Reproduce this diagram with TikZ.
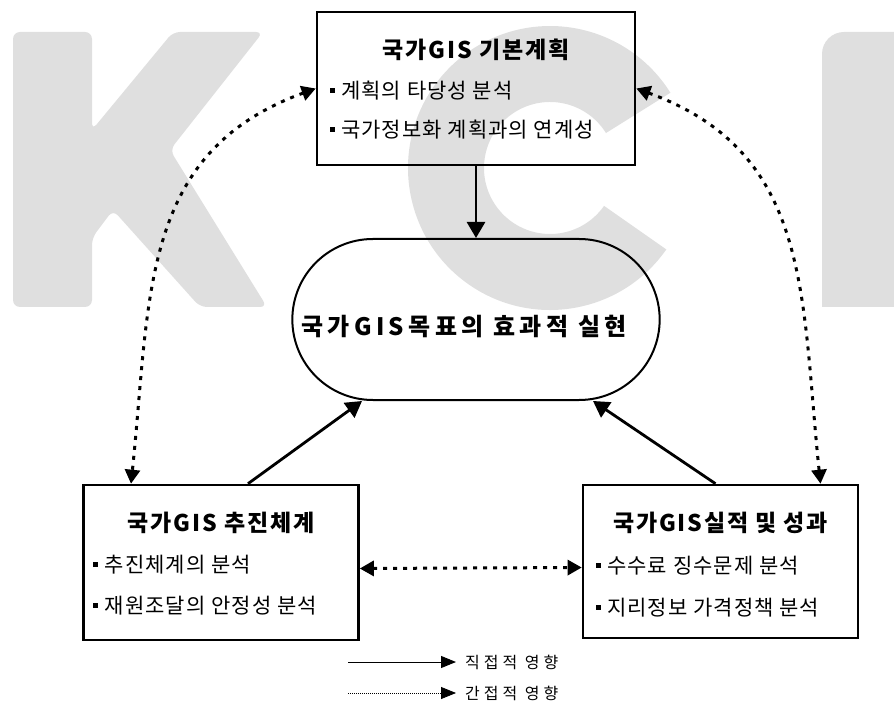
\documentclass[tikz,border=0pt]{standalone}
\usepackage{fontspec}
\setmainfont{Noto Sans CJK KR}
\usetikzlibrary{positioning,calc,arrows.meta,shapes.misc}
\definecolor{watermark}{gray}{0.875}
\newcommand{\itemmark}{\rule[0.28em]{0.24em}{0.24em}\hspace{0.3em}}
\tikzset{%
  every box/.style={
    rectangle,
    draw,
    line width=2.6pt,
    minimum width=318pt,
    minimum height=153pt
  },
  goal box/.style={
    rounded rectangle,
    draw,
    line width=2pt,
    minimum width=374pt,
    minimum height=161pt
  },
  goal text/.style={
    inner sep=0pt,
    font=\fontsize{24}{24}\selectfont\bfseries\addfontfeature{LetterSpace=18}
  },
  box title/.style={
    inner sep=0pt,
    font=\fontsize{23}{23}\selectfont\bfseries\addfontfeature{LetterSpace=8}
  },
  box item/.style={
    anchor=west,
    inner sep=0pt,
    font=\fontsize{21}{21}\selectfont\addfontfeature{LetterSpace=5}
  },
  key text/.style={
    anchor=west,
    inner sep=0pt,
    font=\fontsize{16}{16}\selectfont\addfontfeature{LetterSpace=25}
  },
  direct/.style={
    line width=2.8pt,
    -{Triangle[length=16pt,width=18pt]}
  },
  indirect/.style={
    line width=3pt,
    dash pattern=on 4pt off 6pt,
    {Triangle[length=14pt,width=15pt]}-{Triangle[length=14pt,width=15pt]}
  },
}

\begin{document}
\begin{tikzpicture}[x=1pt, y=-1pt]
    \useasboundingbox (0,0) rectangle (894,708);

    % KCI watermark
    \fill [watermark, rounded corners=7pt] (13,32) -- (92,32) -- (92,130) -- (173,32)
      -- (263,32) -- (170,150) -- (267,307) -- (200,307) -- (113,210) -- (92,238)
      -- (92,307) -- (13,307) -- cycle;
    \fill [watermark] ($(550,168)+(35:142)$)
      arc [start angle=35, end angle=328, radius=142]
      -- ($(550,168)+(328:66)$)
      arc [start angle=328, end angle=35, radius=66] -- cycle;
    \fill [watermark] (894,307) -- (822,307) [rounded corners=22pt] -- (822,32)
      [sharp corners] -- (894,32) -- cycle;

    \node [every box/.try] (plan) at (476,88.5) {};
    \node [every box/.try, minimum width=275pt, minimum height=155pt] (drive) at (221,562.5) {};
    \node [every box/.try, minimum width=275pt, minimum height=153pt] (result) at (720.5,561.5) {};
    \node [goal box] (goal) at (476,319.5) {};
    \node [goal text] (goal-text) at ($(goal)+(-12,7)$) {국가GIS목표의 효과적 실현};

    \foreach \b/\t in {plan/국가GIS 기본계획, drive/국가GIS 추진체계, result/국가GIS실적 및 성과}
      \node [box title] (\b-title) at ($(\b.north)+(0,39)$) {\t};

    \foreach \l [count=\i] in {계획의 타당성 분석, 국가정보화 계획과의 연계성}
      \node [box item] (plan-\i) at ($(plan.north west)+(14,41+39*\i)$) {\itemmark\l};

    \foreach \l [count=\i] in {추진체계의 분석, 재원조달의 안정성 분석}
      \node [box item] (drive-\i) at ($(drive.north west)+(11,40+41*\i)$) {\itemmark\l};

    \foreach \l [count=\i] in {수수료 징수문제 분석, 지리정보 가격정책 분석}
      \node [box item] (result-\i) at ($(result.north west)+(14,40+42*\i)$) {\itemmark\l};

    \draw [direct] (plan) -- (goal);
    \draw [direct] ([xshift=27pt]drive.north) -- ([xshift=-114pt]goal.south);
    \draw [direct] ([xshift=-5pt]result.north) -- ([xshift=117pt]goal.south);

    \draw [indirect] (plan.west) to [out=200, in=84, looseness=1.1] ([xshift=-90pt]drive.north);
    \draw [indirect] (plan.east) to [out=340, in=96, looseness=1.1] ([xshift=100pt]result.north);
    \draw [indirect] ([yshift=-6pt]drive.east) -- ([yshift=-6pt]result.west);

    % legend
    \coordinate (key-1) at (348,662);
    \coordinate (key-2) at (348,693);
    \node [key text] (keytext-1) at (465,662) {직접적 영향};
    \node [key text] (keytext-2) at (465,693) {간접적 영향};
    \draw [line width=1pt, -{Triangle[length=15pt,width=12pt]}] (key-1) -- ([xshift=-9pt]keytext-1.west);
    \draw [line width=0.8pt, dash pattern=on 1pt off 1pt, -{Triangle[length=15pt,width=12pt]}] (key-2) -- ([xshift=-9pt]keytext-2.west);

\end{tikzpicture}
\end{document}
